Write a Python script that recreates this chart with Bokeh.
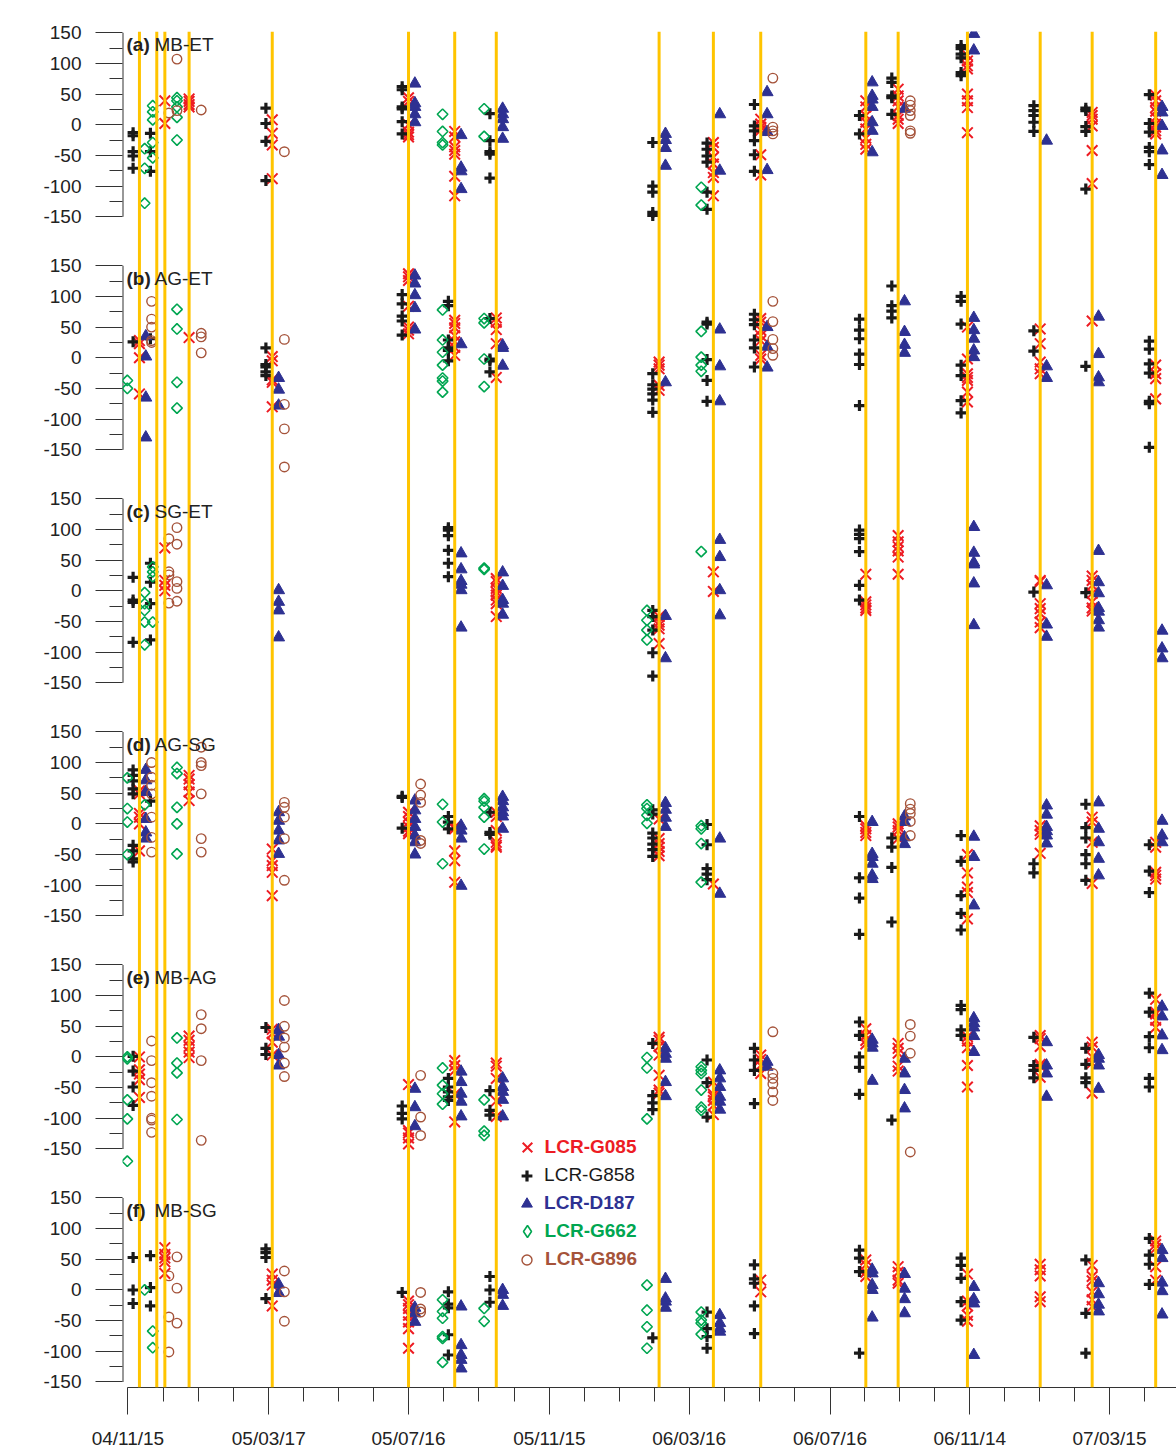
import datetime as dt
from math import pi

from bokeh.plotting import figure
from bokeh.models import (ColumnDataSource, Range1d, LinearAxis, FixedTicker,
                          Span, Label, Legend, LegendItem)
from bokeh.transform import dodge
from bokeh.embed import file_html
from bokeh.resources import INLINE

# ------------------------------------------------------------------ data
tick_labels = ["04/11/15", "05/03/17", "05/07/16", "05/11/15",
               "06/03/16", "06/07/16", "06/11/14", "07/03/15"]
campaign_dates = ["04/11/25", "04/12/10", "04/12/17", "05/01/07", "05/03/20",
                  "05/07/16", "05/08/25", "05/09/30", "06/02/18", "06/04/06",
                  "06/05/17", "06/08/16", "06/09/13", "06/11/12", "07/01/14",
                  "07/02/28", "07/04/24"]
series_names = ["LCR-G085", "LCR-G858", "LCR-D187", "LCR-G662", "LCR-G896"]
panel_tags = ["(a)", "(b)", "(c)", "(d)", "(e)", "(f)"]
panel_names = ["MB-ET", "AG-ET", "SG-ET", "AG-SG", "MB-AG", "MB-SG"]
y_tick_values = [-150, -100, -50, 0, 50, 100, 150]
y_minor_values = [-125, -75, -25, 25, 75, 125]

# values per campaign number (nm/s^2)
# ---- (a) MB-ET
MB_ET_G085 = {3: [39, 2], 4: [42, 38, 33, 29], 5: [8, -14, -33, -88],
              6: [44, 38, 0, -12, -16, -20], 7: [-11, -20, -36, -42, -48, -84, -116],
              10: [-29, -37, -53, -64, -78, -86, -116], 11: [9, 1, -4, -9, -49, -82],
              12: [39, 29, 15, 4, -7, -22, -32, -40], 13: [58, 47, 39, 29, 15, 9, 2],
              14: [113, 104, 96, 91, 50, 39, 28, -13], 16: [20, 15, 9, -2, -42, -96],
              17: [48, 39, 28, 22, 12, 1, -4, -10, -15]}
MB_ET_G858 = {1: [-13, -18, -44, -51, -71], 2: [-14, -44, -76], 5: [27, 2, -27, -91],
              6: [62, 57, 29, 26, 5, -15], 8: [18, -26, -44, -48, -87],
              9: [-29, -100, -110, -143, -148], 10: [-30, -40, -51, -61, -110, -138],
              11: [33, -2, -10, -26, -49, -76], 12: [15, -15], 13: [76, 69, 47, 44, 17],
              14: [129, 124, 115, 109, 85, 80], 15: [31, 23, 15, 4, -11],
              16: [27, 23, -3, -11, -105], 17: [49, 2, -12, -37, -44, -65]}
MB_ET_D187 = {6: [67, 35, 29, 17, 4], 7: [-17, -70, -76, -105], 8: [26, 17, 9, -4, -23],
              9: [-15, -25, -38, -67], 10: [17, -75], 11: [53, 17, -12, -74],
              12: [69, 47, 41, 29, 4, -10, -45], 13: [26], 14: [159, 148, 121], 15: [-26],
              17: [29, 20, -2, -42, -82]}
MB_ET_G662 = {2: [-39, -71, -128], 3: [31, 21, 8, -29, -54], 4: [44, 39, 29, 12, -25],
              7: [17, -11, -29, -33], 8: [26, -19], 10: [-102, -131]}
MB_ET_G896 = {2: [19], 3: [107, 23], 4: [24], 5: [-44], 11: [76, -4, -10, -15],
              13: [39, 32, 23, 15, -10, -14]}
# ---- (b) AG-ET
AG_ET_G085 = {1: [28, 23, 0, -59], 4: [33], 5: [2, -5, -36, -40, -80],
              6: [137, 132, 126, 84, 50, 45, 39], 7: [61, 56, 49, 36, 26, 17, 4],
              8: [65, 58, 46, 23, -32], 9: [-7, -12, -18, -45, -53],
              11: [64, 58, 45, 36, 28, 4, -2], 14: [50, -2, -26, -32, -37, -56, -72],
              15: [47, 23, -7, -18, -26], 16: [60], 17: [-12, -26, -34, -67]}
AG_ET_G858 = {1: [26], 2: [31], 5: [16, -11, -15, -23, -29], 6: [103, 88, 68, 60, 37],
              7: [92, 85, 29, 16, 12, -5], 8: [64, -2, -5, -23],
              9: [-26, -44, -51, -59, -69, -89], 10: [58, 55, -3, -37, -71],
              11: [71, 62, 54, 29, 16, -15], 12: [63, 45, 31, 6, -11, -78],
              13: [117, 85, 76, 65], 14: [100, 92, 55, -12, -29, -70, -90], 15: [44, 11],
              16: [-14], 17: [27, 14, -10, -25, -71, -75, -146]}
AG_ET_D187 = {1: [35, 2, -65, -130], 5: [-33, -52, -78], 6: [134, 121, 102, 81, 46],
              7: [22], 8: [20, 16, -13], 9: [-40], 10: [46, -14, -71], 11: [50, 18, -16],
              13: [92, 42, 21, 8], 14: [65, 45, 31, 12, 1], 15: [-14, -33],
              16: [67, 6, -32, -40]}
AG_ET_G662 = {1: [-37, -50], 4: [79, 47, -40, -82], 7: [78, 29, 9, -12, -33, -38, -56],
              8: [64, 57, -2, -47], 10: [43, 1, -12, -22]}
AG_ET_G896 = {1: [92, 63, 50, 28, 25], 4: [40, 34, 8], 5: [30, -76, -116, -178],
              11: [92, 59, 30, 15, 4]}
# ---- (c) SG-ET
SG_ET_G085 = {3: [70, 17, 9, 0], 8: [20, 15, 4, -2, -7, -15, -21, -42],
              9: [-42, -51, -56, -62, -86], 10: [31, -1], 12: [27, -18, -23, -28, -32],
              13: [90, 80, 72, 65, 55, 27], 15: [17, 15, -21, -29, -37, -51, -60],
              16: [24, 17, 9, -4, -18, -28, -33]}
SG_ET_G858 = {1: [22, -15, -19, -84], 2: [45, 14, -21, -80], 7: [103, 99, 90, 66, 45, 23],
              9: [-32, -42, -64, -101, -139], 12: [99, 92, 85, 64, 9, -15], 15: [-2],
              16: [-3]}
SG_ET_D187 = {5: [1, -18, -32, -76], 7: [61, 35, 16, 10, 1, -60], 8: [30, 8, -15, -21, -39],
              9: [-41, -110], 10: [83, 55, 1, -40], 14: [104, 62, 46, 43, 12, -56],
              15: [9, -55, -75], 16: [65, 14, -4, -28, -34, -48, -60], 17: [-65, -94, -110]}
SG_ET_G662 = {2: [-3, -21, -32, -51, -88], 3: [39, 31, 23, -51], 8: [37, 35],
              9: [-32, -48, -64, -80], 10: [64]}
SG_ET_G896 = {2: [85, 31, 26, -20], 3: [103, 76, 15, 4, -17]}
# ---- (d) AG-SG
AG_SG_G085 = {1: [54, 49, 17, 11, 0, -44], 4: [79, 73, 64, 52, 38],
              5: [-41, -60, -68, -79, -117], 6: [19, 12, 3, -5, -12, -16],
              7: [-5, -8, -44, -60, -95], 8: [19, 12, -11, -30, -35, -38],
              9: [8, -24, -32, -38, -45, -52], 10: [-98], 12: [-3, -8, -14, -19],
              13: [0, -5, -11, -24], 14: [-50, -80, -103, -112, -155],
              15: [-3, -11, -17, -48], 16: [11, 3, -30, -97], 17: [-30, -38, -79, -84, -90]}
AG_SG_G858 = {1: [88, 79, 70, 57, 49, -35, -44, -57, -62], 2: [37], 6: [43, 45, -7],
              7: [12, 3, -8], 8: [19, -14, -17], 9: [23, 16, -15, -23, -33, -42, -53],
              10: [-1, -34, -73, -82, -91], 12: [12, -88, -121, -180],
              13: [-23, -38, -71, -160], 14: [-19, -61, -117, -146, -173], 15: [-65, -80],
              16: [32, -6, -23, -50, -65, -92], 17: [-34, -77, -112]}
AG_SG_D187 = {1: [88, 71, 52, 8, -14, -24], 5: [19, 5, -11, -27, -49],
              6: [38, 22, 8, -5, -19, -30, -50], 7: [-3, -11, -24, -101],
              8: [44, 37, 27, 19, 12, -8], 9: [34, 23, 10, -5], 10: [-24, -114],
              12: [3, -49, -54, -65, -84, -90], 13: [12, 3, -22, -33], 14: [-21, -54, -133],
              15: [30, 15, -5, -12, -19, -32], 16: [35, -8, -30, -57, -84], 17: [5, -19, -30]}
AG_SG_G662 = {1: [75, 25, 3, -50], 2: [31], 4: [92, 82, 27, 0, -49], 7: [32, 3, -65],
              8: [41, 37, 27, 11, -41], 9: [31, 25, 14, 1], 10: [-3, -8, -32, -95]}
AG_SG_G896 = {1: [100, 76, 63, 49, 11, -22, -46], 4: [125, 100, 95, 49, -24, -46],
              5: [35, 27, 11, -24, -92], 6: [65, 47, 35, -27, -32], 13: [33, 24, 17, 4, -19]}
# ---- (e) MB-AG
MB_AG_G085 = {1: [0, -21, -28, -37, -66], 4: [34, 27, 17, 8, -1], 5: [45, 38, 24, 3],
              6: [-45, -120, -124, -132, -142], 7: [-6, -14, -22, -61, -106],
              8: [-10, -15, -35, -72, -97], 9: [32, 27, 17, 3, -30, -54, -59],
              10: [-41, -61, -65, -71, -79, -94], 11: [3, -4, -14, -27], 12: [46, 35, 27, 21],
              13: [22, 14, 6, -15, -23], 14: [33, 26, 15, -14, -49],
              15: [35, 30, 17, -12, -15, -33], 16: [24, 16, 0, -10, -59],
              17: [94, 73, 70, 60, 48]}
MB_AG_G858 = {1: [1, -23, -49, -79], 5: [48, 14, 4], 6: [-80, -92, -101],
              7: [-35, -49, -57, -65, -71], 8: [-55, -87, -95], 9: [22, -63, -75, -86],
              10: [-5, -42, -98], 11: [14, -5, -22, -76], 12: [57, 35, 0, -17, -61],
              13: [-103], 14: [84, 77, 44, 35], 15: [32, -14, -22, -34],
              16: [14, -12, -34, -42], 17: [104, 73, 33, 15, -35, -49]}
MB_AG_D187 = {5: [44, 33, 3, -14], 6: [-52, -82, -113], 7: [-24, -41, -60, -73, -97],
              8: [-35, -49, -57, -70, -97], 9: [14, 5, -3, -41, -64],
              10: [-22, -35, -49, -65, -73, -86], 11: [-8, -16], 12: [28, 22, 15, -39],
              13: [-3, -27, -54, -84], 14: [63, 55, 48, 34, 8], 15: [24, -14, -27, -65],
              16: [3, -3, -14, -52], 17: [82, 66, 35, 11]}
MB_AG_G662 = {1: [0, -3, -70, -101, -170], 4: [31, -10, -26, -102], 7: [-18, -46, -60, -77],
              8: [-70, -121, -128], 9: [-1, -18, -101], 10: [-16, -22, -27, -54, -82, -87]}
MB_AG_G896 = {1: [26, -6, -42, -64, -100, -103, -123], 4: [69, 46, -6, -136],
              5: [92, 50, 31, 16, -10, -32], 6: [-30, -98, -128],
              11: [41, -27, -35, -44, -57, -71], 13: [53, 34, 6, -155]}
# ---- (f) MB-SG
MB_SG_G085 = {3: [69, 58, 52, 46, 27], 5: [26, 16, 8, -26],
              6: [-18, -24, -30, -41, -52, -63, -95], 11: [16, -3], 12: [49, 41, 29, 22],
              13: [38, 29, 16, 11], 14: [26, -18, -26, -41, -51], 15: [42, 33, 23, -11, -19],
              16: [40, 22, 15, -3, -16, -27], 17: [80, 74, 68, 38, 16]}
MB_SG_G858 = {1: [53, 0, -22], 2: [56, 4, -26], 5: [67, 61, 53, -14], 6: [-4],
              7: [-3, -23, -29, -73, -106], 8: [22, 0, -20], 9: [-78], 10: [-36, -63, -76, -95],
              11: [41, 18, 11, -26, -71], 12: [65, 52, 30, -103], 14: [52, 40, 19, -19, -49],
              16: [49, -38, -103], 17: [84, 57, 42, 9]}
MB_SG_D187 = {5: [9, -5], 6: [-29, -38, -52], 7: [-27, -90, -106, -114, -128],
              8: [0, -8, -26], 9: [18, -14, -19, -29], 10: [-41, -54, -63, -68],
              12: [33, 27, 8, 0, -45], 13: [26, 2, -15, -38], 14: [5, -15, -22, -106],
              16: [11, -7, -24, -35], 17: [65, 52, 12, -2, -40]}
MB_SG_G662 = {2: [0], 3: [-67, -94], 7: [-16, -35, -46, -76, -79, -118], 8: [-30, -51],
              9: [8, -33, -60, -95], 10: [-36, -49, -54, -72]}
MB_SG_G896 = {2: [23, -44, -101], 3: [54, 3, -54], 5: [31, -3, -51], 6: [-4, -31, -36]}

panels_data = [
    [MB_ET_G085, MB_ET_G858, MB_ET_D187, MB_ET_G662, MB_ET_G896],
    [AG_ET_G085, AG_ET_G858, AG_ET_D187, AG_ET_G662, AG_ET_G896],
    [SG_ET_G085, SG_ET_G858, SG_ET_D187, SG_ET_G662, SG_ET_G896],
    [AG_SG_G085, AG_SG_G858, AG_SG_D187, AG_SG_G662, AG_SG_G896],
    [MB_AG_G085, MB_AG_G858, MB_AG_D187, MB_AG_G662, MB_AG_G896],
    [MB_SG_G085, MB_SG_G858, MB_SG_D187, MB_SG_G662, MB_SG_G896],
]

# ------------------------------------------------------------------ style
FONT = "Liberation Sans"
GOLD = "#ffc400"
RED, BLACK, BLUE, GREEN, BROWN = "#ed1c24", "#1a1a1a", "#2e3192", "#00a651", "#a5533a"
TEXT = "#222222"
AXIS = "#333333"

styles = [
    dict(marker="x", size=15, line_color=RED, line_width=2, fill_color=None),
    dict(marker="cross", size=11, line_color=BLACK, line_width=3.2, fill_color=None),
    dict(marker="triangle", size=12, line_color=BLUE, fill_color=BLUE, line_width=1),
    dict(marker="square", size=7.5, angle=pi / 4, line_color=GREEN, fill_color=None, line_width=1.6),
    dict(marker="circle", size=9.5, line_color=BROWN, fill_color=None, line_width=1.4),
]
# the legend does not rotate markers, so the diamond gets its own (hidden-data) proxy
diamond_legend_style = dict(marker="diamond", size=13, line_color=GREEN, fill_color=None,
                            line_width=1.6)
dodge_days = [0.0, -5.5, 5.5, -10.5, 10.5]
legend_colors = [RED, BLACK, BLUE, GREEN, BROWN]
legend_weights = ["bold", "normal", "bold", "bold", "bold"]
legend_glyph_box = [34, 27, 27, 30, 25]   # legend marker size is 0.4 x this box

# ------------------------------------------------------------------ geometry
ORIGIN = dt.date(2004, 11, 15)


def to_days(s):
    yy, mm, dd = (int(t) for t in s.split("/"))
    return float((dt.date(2000 + yy, mm, dd) - ORIGIN).days)


camp_days = [to_days(s) for s in campaign_dates]
x_ticks = [to_days(s) for s in tick_labels]

PX_DAY = 1.1548
PX_UNIT = 0.6133
SPACING = 380
FRAME_W, FRAME_H = 1054, 1356
LEFT, TOP, BOTTOM = 122, 31, 62
x_start = -5.4 / PX_DAY
x_end = x_start + FRAME_W / PX_DAY
y_end = 152.0
y_start = y_end - FRAME_H / PX_UNIT

p = figure(frame_width=FRAME_W, frame_height=FRAME_H,
           x_range=Range1d(x_start, x_end), y_range=Range1d(y_start, y_end),
           x_axis_type=None, y_axis_type=None,
           output_backend="svg", toolbar_location=None,
           min_border_left=LEFT, min_border_right=0,
           min_border_top=TOP, min_border_bottom=BOTTOM,
           outline_line_color=None, background_fill_color="white",
           border_fill_color="white")

# y axis (six stacked panels on one axis)
y_ticks, y_minor, y_over = [], [], {}
for k in range(6):
    off = -SPACING * k
    for v in y_tick_values:
        y_ticks.append(v + off)
        y_over[v + off] = str(v)
    for v in y_minor_values:
        y_minor.append(v + off)
yaxis = LinearAxis(ticker=FixedTicker(ticks=y_ticks, minor_ticks=y_minor),
                   major_label_overrides=y_over, axis_line_color=None,
                   major_tick_in=0, major_tick_out=27, minor_tick_in=0, minor_tick_out=13,
                   major_tick_line_color=AXIS, minor_tick_line_color=AXIS,
                   major_label_text_font=FONT, major_label_text_font_size="19px",
                   major_label_text_color=TEXT, major_label_standoff=14)
p.add_layout(yaxis, "left")
for k in range(6):
    off = -SPACING * k
    p.segment(x0=[x_start], x1=[x_start], y0=[y_tick_values[0] + off],
              y1=[y_tick_values[-1] + off], line_color=AXIS, line_width=2)

# x axis
x_minor = []
for a, b in zip(x_ticks[:-1], x_ticks[1:]):
    x_minor += [a + (b - a) * j / 4 for j in (1, 2, 3)]
step = (x_ticks[-1] - x_ticks[0]) / (len(x_ticks) - 1) / 4
t = x_ticks[-1] + step
while t < x_end:
    x_minor.append(t)
    t += step
xaxis = LinearAxis(ticker=FixedTicker(ticks=x_ticks, minor_ticks=x_minor),
                   major_label_overrides={t: l for t, l in zip(x_ticks, tick_labels)},
                   bounds=(x_ticks[0], x_end), axis_line_color=AXIS,
                   major_tick_in=0, major_tick_out=27, minor_tick_in=0, minor_tick_out=14,
                   major_tick_line_color=AXIS, minor_tick_line_color=AXIS,
                   major_label_text_font=FONT, major_label_text_font_size="19px",
                   major_label_text_color=TEXT, major_label_standoff=13)
p.add_layout(xaxis, "below")

# data
legend_renderers = [None] * 5
for k, panel in enumerate(panels_data):
    for s, table in enumerate(panel):
        days_col, vals = [], []
        for c, values in table.items():
            for v in values:
                days_col.append(camp_days[c - 1])
                vals.append(v)
        src = ColumnDataSource(dict(day=days_col, val=vals))
        r = p.scatter(x=dodge("day", dodge_days[s], range=p.x_range),
                      y=dodge("val", -SPACING * k, range=p.y_range),
                      source=src, **styles[s])
        if k == 0:
            legend_renderers[s] = r
nan = float("nan")
legend_renderers[3] = p.scatter(x=[nan], y=[nan], **diamond_legend_style)

# campaign lines and numbers
for i, d in enumerate(camp_days):
    p.add_layout(Span(location=d, dimension="height", line_color=GOLD, line_width=3))
    p.add_layout(Label(x=d, y=y_end, y_offset=10, text=str(i + 1), text_align="center",
                       text_baseline="middle", text_color=GOLD, text_font=FONT,
                       text_font_size="19px", text_font_style="bold"))
p.add_layout(Label(x=to_days("05/12/12"), y=y_end, y_offset=10, text="campaigns",
                   text_align="center", text_baseline="middle", text_color=GOLD,
                   text_font=FONT, text_font_size="18px", text_font_style="bold"))

# panel titles and unit labels
for k in range(6):
    off = -SPACING * k
    p.add_layout(Label(x=x_start, y=130 + off, x_offset=4, text=panel_tags[k],
                       text_baseline="middle", text_color=TEXT, text_font=FONT,
                       text_font_size="19px", text_font_style="bold"))
    p.add_layout(Label(x=x_start, y=130 + off, x_offset=32, text=panel_names[k],
                       text_baseline="middle", text_color=TEXT, text_font=FONT,
                       text_font_size="19px"))
    p.add_layout(Label(x=x_start, y=off, x_offset=-97, text="[nm/s\u00b2]", angle=pi / 2,
                       text_align="center", text_baseline="middle", text_color=TEXT,
                       text_font=FONT, text_font_size="19px"))

# legend (one per series so each label has its own colour)
MARK_X, TEXT_X = 526.6, 544.6      # page positions of legend markers / label starts
for s, name in enumerate(series_names):
    g = legend_glyph_box[s]
    mark_y = 1147 + 28 * s
    vx = MARK_X - LEFT - g / 2
    vy = (TOP + FRAME_H) - mark_y - g / 2
    lg = Legend(items=[LegendItem(label=name, renderers=[legend_renderers[s]])],
                location=(vx, vy), padding=0, margin=0, spacing=0,
                border_line_color=None, background_fill_alpha=0,
                glyph_width=g, glyph_height=g, label_height=g,
                label_standoff=int(round(TEXT_X - MARK_X - g / 2)),
                label_text_font=FONT, label_text_font_size="19px",
                label_text_font_style=legend_weights[s],
                label_text_color=legend_colors[s])
    p.add_layout(lg)

open("out.html", "w").write(file_html(p, INLINE))
